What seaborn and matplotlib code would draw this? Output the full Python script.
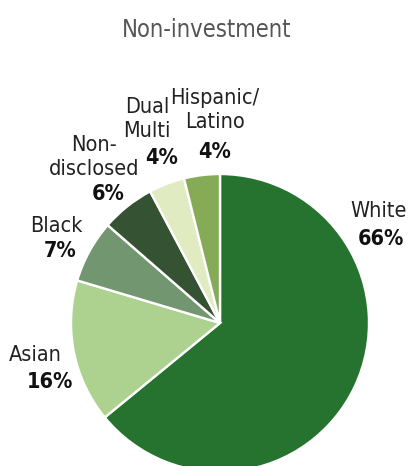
import matplotlib
matplotlib.use("Agg")
import matplotlib.pyplot as plt
from matplotlib import font_manager
import seaborn as sns

# Data
groups = ["White", "Asian", "Black", "Non-\ndisclosed", "Dual\nMulti", "Hispanic/\nLatino"]
shares = [66, 16, 7, 6, 4, 4]
colors = ["#25732F", "#ADD28F", "#72966F", "#355233", "#E1EBC1", "#85AB57"]
title = "Non-investment"

# Label anchors in figure pixels (x centre, baseline y from top)
name_pos = [(379, 217), (35, 361), (56, 232), (94, 175), (147, 137), (215, 128)]
pct_pos = [(381, 245), (50, 388), (60, 257), (108, 200), (162, 164), (215, 158)]

sns.set_theme(style="white")

# Pick a condensed face if one is available
stretch = "normal"
family = "DejaVu Sans"
names = {(f.name, f.stretch) for f in font_manager.fontManager.ttflist}
cond = [f for f in font_manager.fontManager.ttflist
        if f.name == "DejaVu Sans" and "ondensed" in f.fname]
if cond:
    stretch = "condensed"
elif any(n == "Liberation Sans Narrow" for n, _ in names):
    family = "Liberation Sans Narrow"
plt.rcParams["font.family"] = [family, "DejaVu Sans"]

W, H = 408, 466
fig = plt.figure(figsize=(W / 100, H / 100), dpi=100)
ax = fig.add_axes([0, 0, 1, 1])

ax.pie(shares, colors=colors, startangle=90, counterclock=False,
       center=(220, H - 323), radius=149,
       wedgeprops=dict(edgecolor="white", linewidth=1.7))
ax.set_xlim(0, W)
ax.set_ylim(0, H)
ax.set_aspect("equal")
ax.axis("off")

ax.text(207, H - 37, title, ha="center", va="baseline", fontsize=17,
        color="#555555", fontstretch=stretch)

for name, share, (nx, ny), (px, py) in zip(groups, shares, name_pos, pct_pos):
    ax.text(nx, H - ny, name, ha="center", va="baseline", fontsize=15.5,
            color="#222222", linespacing=1.25, multialignment="center",
            fontstretch=stretch)
    ax.text(px, H - py, f"{share}%", ha="center", va="baseline", fontsize=15.5,
            fontweight="bold", color="#111111", fontstretch=stretch)

fig.savefig("out.png", dpi=100)
